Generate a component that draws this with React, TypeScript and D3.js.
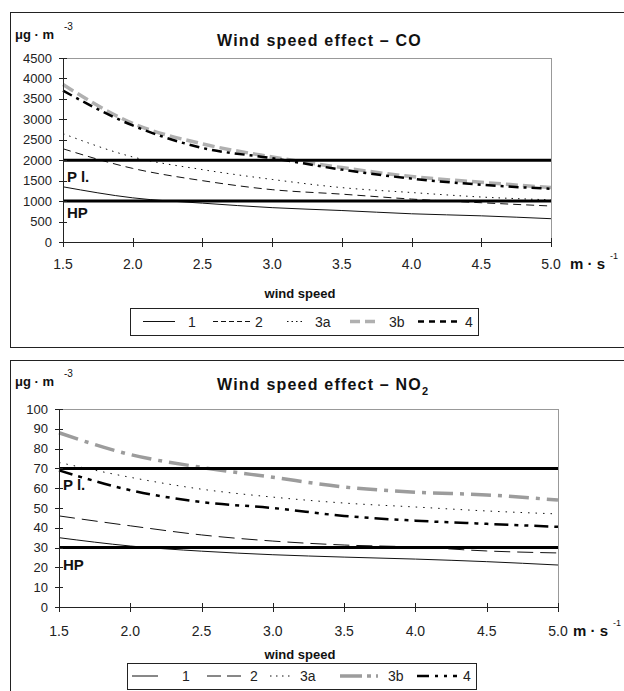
import React from "react";
import * as d3 from "d3";

const X_VALUES = [1.5, 2.0, 2.5, 3.0, 3.5, 4.0, 4.5, 5.0];
const X_TICKS = [1.5, 2.0, 2.5, 3.0, 3.5, 4.0, 4.5, 5.0];
const SERIES_NAMES = ["1", "2", "3a", "3b", "4"];

const CO_S1 = [1350, 1080, 950, 840, 770, 690, 640, 570];
const CO_S2 = [2280, 1800, 1500, 1280, 1170, 1050, 960, 880];
const CO_S3A = [2650, 2080, 1770, 1530, 1330, 1210, 1100, 1030];
const CO_S3B = [3850, 2900, 2400, 2080, 1820, 1600, 1460, 1330];
const CO_S4 = [3700, 2850, 2300, 2050, 1770, 1550, 1400, 1300];
const CO_Y_TICKS = [0, 500, 1000, 1500, 2000, 2500, 3000, 3500, 4000, 4500];
const CO_LIMITS = [2000, 1000];

const NO2_S1 = [35, 30.8, 28.2, 26.4, 25.2, 24.2, 22.9, 21.2];
const NO2_S2 = [46, 41, 36.4, 33.3, 31.3, 30.3, 28.3, 27.3];
const NO2_S3A = [73, 65.5, 59.5, 55.5, 52.5, 50.5, 48.5, 47];
const NO2_S3B = [88, 77, 70.5, 65.5, 60.6, 58, 56.6, 54];
const NO2_S4 = [69, 59, 53, 50, 46, 43.6, 42, 40.5];
const NO2_Y_TICKS = [0, 10, 20, 30, 40, 50, 60, 70, 80, 90, 100];
const NO2_LIMITS = [70, 30];

const FONT = "'Liberation Sans', Arial, Helvetica, sans-serif";

type Style = { stroke: string; width: number; dash?: string; legendDash?: string };

type ChartProps = {
  box: { x: number; y: number; w: number; h: number };
  plot: { left: number; right: number; top: number; bottom: number };
  yMax: number;
  yTicks: number[];
  series: number[][];
  styles: Style[];
  limits: number[];
  title: string;
  titleSub?: string;
  titleY: number;
  unitY: number;
  xLabelY: number;
  windY: number;
  legend: { x: number; y: number; w: number; h: number; samples: [number, number][]; labels: number[] };
  plLabelY: number;
  hpLabelY: number;
  msX: number;
  supX: number;
};

function Chart(p: ChartProps) {
  const x = d3.scaleLinear().domain([1.5, 5.0]).range([p.plot.left, p.plot.right]);
  const y = d3.scaleLinear().domain([0, p.yMax]).range([p.plot.bottom, p.plot.top]);
  const line = d3
    .line<number>()
    .x((_, i) => x(X_VALUES[i]))
    .y((d) => y(d))
    .curve(d3.curveMonotoneX);
  const legY = p.legend.y + p.legend.h / 2;
  return (
    <g>
      <rect x={p.box.x + 0.5} y={p.box.y + 0.5} width={p.box.w} height={p.box.h} fill="#fff" stroke="#222" strokeWidth={1} />
      {/* units */}
      <text x={p.box.x + 5} y={p.unitY} fontFamily={FONT} fontWeight="bold" fontSize={13} fill="#111">
        μg · m
      </text>
      <text x={p.box.x + 54} y={p.unitY - 9} fontFamily={FONT} fontSize={10} fill="#111">
        -3
      </text>
      {/* title */}
      <text x={217} y={p.titleY} fontFamily={FONT} fontWeight="bold" fontSize={16} letterSpacing={1.2} fill="#111">
        {p.title}
        {p.titleSub ? (
          <tspan dy={5} fontSize={11}>
            {p.titleSub}
          </tspan>
        ) : null}
      </text>
      {/* plot frame */}
      <line x1={p.plot.left} x2={p.plot.right} y1={p.plot.top + 0.5} y2={p.plot.top + 0.5} stroke="#999" />
      <line x1={p.plot.right + 0.5} x2={p.plot.right + 0.5} y1={p.plot.top} y2={p.plot.bottom} stroke="#999" />
      {/* series */}
      {p.series.map((s, i) => (
        <path
          key={i}
          d={line(s) || ""}
          fill="none"
          stroke={p.styles[i].stroke}
          strokeWidth={p.styles[i].width}
          strokeDasharray={p.styles[i].dash}
        />
      ))}
      {/* limit lines */}
      {p.limits.map((v) => (
        <line key={v} x1={p.plot.left} x2={p.plot.right} y1={y(v)} y2={y(v)} stroke="#000" strokeWidth={3} />
      ))}
      <text x={p.plot.left + 4} y={p.plLabelY} fontFamily={FONT} fontWeight="bold" fontSize={15} fill="#111">
        P l.
      </text>
      <text x={p.plot.left + 4} y={p.hpLabelY} fontFamily={FONT} fontWeight="bold" fontSize={15} fill="#111">
        HP
      </text>
      {/* axes */}
      <line x1={p.plot.left + 0.5} x2={p.plot.left + 0.5} y1={p.plot.top} y2={p.plot.bottom} stroke="#222" />
      <line x1={p.plot.left} x2={p.plot.right + 1} y1={p.plot.bottom + 0.5} y2={p.plot.bottom + 0.5} stroke="#222" />
      {p.yTicks.map((t) => (
        <g key={t}>
          <line x1={p.plot.left - 4} x2={p.plot.left + 4} y1={Math.round(y(t)) + 0.5} y2={Math.round(y(t)) + 0.5} stroke="#222" />
          <text x={p.plot.left - 11} y={y(t) + 4.5} textAnchor="end" fontFamily={FONT} fontSize={13} fill="#222">
            {t}
          </text>
        </g>
      ))}
      {X_TICKS.map((t) => (
        <g key={t}>
          <line x1={Math.round(x(t)) + 0.5} x2={Math.round(x(t)) + 0.5} y1={p.plot.bottom - 4} y2={p.plot.bottom + 5} stroke="#222" />
          <text x={x(t)} y={p.xLabelY} textAnchor="middle" fontFamily={FONT} fontSize={14} fill="#222">
            {t.toFixed(1)}
          </text>
        </g>
      ))}
      <text x={p.msX} y={p.xLabelY} fontFamily={FONT} fontWeight="bold" fontSize={15} fill="#111">
        m · s
      </text>
      <text x={p.supX} y={p.xLabelY - 10} fontFamily={FONT} fontSize={9} fill="#111">
        -1
      </text>
      <text x={300} y={p.windY} textAnchor="middle" fontFamily={FONT} fontWeight="bold" fontSize={13} fill="#111">
        wind speed
      </text>
      {/* legend */}
      <rect x={p.legend.x + 0.5} y={p.legend.y + 0.5} width={p.legend.w} height={p.legend.h} fill="#fff" stroke="#222" />
      {SERIES_NAMES.map((n, i) => (
        <g key={n}>
          <line
            x1={p.legend.samples[i][0]}
            x2={p.legend.samples[i][1]}
            y1={legY}
            y2={legY}
            stroke={p.styles[i].stroke}
            strokeWidth={p.styles[i].width}
            strokeDasharray={p.styles[i].legendDash ?? p.styles[i].dash}
          />
          <text x={p.legend.labels[i]} y={legY + 5} fontFamily={FONT} fontSize={14} fill="#222">
            {n}
          </text>
        </g>
      ))}
    </g>
  );
}

export default function App() {
  const coStyles: Style[] = [
    { stroke: "#111", width: 1 },
    { stroke: "#111", width: 1, dash: "8,5", legendDash: "5,3" },
    { stroke: "#111", width: 1, dash: "1.5,5", legendDash: "1.5,3" },
    { stroke: "#b0b0b0", width: 3.5, dash: "12,5", legendDash: "10,5" },
    { stroke: "#000", width: 2.5, dash: "10,5,3,5", legendDash: "6,5" },
  ];
  const no2Styles: Style[] = [
    { stroke: "#111", width: 1 },
    { stroke: "#111", width: 1, dash: "16,7", legendDash: "14,6" },
    { stroke: "#111", width: 1, dash: "1.5,6", legendDash: "1.5,4.5" },
    { stroke: "#9c9c9c", width: 3.5, dash: "20,7,4,7", legendDash: "22,5,4,5" },
    { stroke: "#000", width: 2.5, dash: "14,6,4,6,4,6", legendDash: "12,6,3,6,3,6" },
  ];
  return (
    <svg
      width={624}
      height={691}
      style={{ position: "absolute", left: 0, top: 0, background: "#fff" }}
    >
      <Chart
        box={{ x: 10, y: 12, w: 640, h: 335 }}
        plot={{ left: 63, right: 551, top: 58, bottom: 242 }}
        yMax={4500}
        yTicks={CO_Y_TICKS}
        series={[CO_S1, CO_S2, CO_S3A, CO_S3B, CO_S4]}
        styles={coStyles}
        limits={CO_LIMITS}
        title="Wind speed effect – CO"
        titleY={46}
        unitY={39}
        xLabelY={269}
        windY={298}
        legend={{
          x: 130,
          y: 308,
          w: 348,
          h: 27,
          samples: [[143, 175], [213, 250], [287, 305], [350, 378], [418, 458]],
          labels: [188, 255, 315, 389, 465],
        }}
        plLabelY={182}
        hpLabelY={218}
        msX={570}
        supX={610}
      />
      <Chart
        box={{ x: 10, y: 360, w: 640, h: 340 }}
        plot={{ left: 59, right: 558, top: 409, bottom: 607 }}
        yMax={100}
        yTicks={NO2_Y_TICKS}
        series={[NO2_S1, NO2_S2, NO2_S3A, NO2_S3B, NO2_S4]}
        styles={no2Styles}
        limits={NO2_LIMITS}
        title="Wind speed effect – NO"
        titleSub="2"
        titleY={390}
        unitY={386}
        xLabelY={636}
        windY={659}
        legend={{
          x: 127,
          y: 663,
          w: 349,
          h: 26,
          samples: [[132, 158], [207, 243], [270, 292], [340, 378], [417, 457]],
          labels: [182, 250, 300, 388, 463],
        }}
        plLabelY={490}
        hpLabelY={570}
        msX={573}
        supX={613}
      />
    </svg>
  );
}
